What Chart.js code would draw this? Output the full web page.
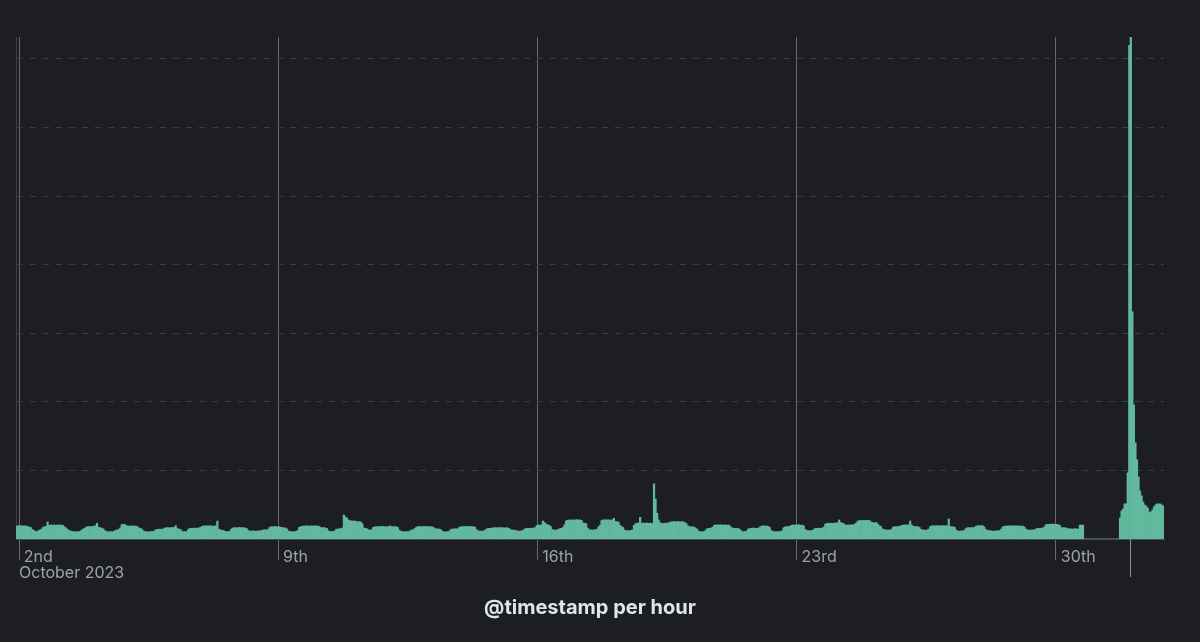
<!DOCTYPE html>
<html lang="en">
<head>
  <meta charset="UTF-8">
  <title>@timestamp per hour</title>
  <style>
    html, body {
      margin: 0;
      padding: 0;
      background: #1d1e24;
    }
    .chart-container {
      position: relative;
      width: 1200px;
      height: 642px;
    }
  </style>
  <script src="https://cdn.jsdelivr.net/npm/chart.js"></script>
</head>
<body>
  <div class="chart-container">
    <canvas id="histogram"></canvas>
  </div>

  <script>
    // hourly document counts, first bucket 2023-10-01 22:00
    const firstHour = Date.UTC(2023, 9, 1, 22);

    const oct01Late = [95, 96];
    const week1 = [
      95,97,94,96,95,92,88,84,70,64,55,53,60,66,72,84,90,92,124,100,102,101,103,100,
      102,101,103,100,99,88,80,70,62,58,56,53,52,54,53,55,64,72,78,86,90,91,89,92,
      94,96,115,86,82,80,74,62,55,53,52,54,53,56,62,66,68,80,104,107,106,97,95,94,
      96,95,93,95,92,82,78,72,60,55,53,52,53,54,53,58,66,70,71,72,70,74,80,82,
      83,81,84,82,85,97,76,73,70,58,53,54,53,68,76,78,79,77,80,78,81,84,92,95,
      95,96,94,97,95,93,94,96,131,72,66,64,62,55,53,54,56,72,80,82,83,81,84,82,
      83,82,80,76,62,58,57,59,58,56,58,60,59,64,66,67,65,72,86,90,89,91,90,88
    ];
    const week2 = [
      90,86,82,83,80,74,60,54,53,52,54,56,62,84,90,92,95,94,96,95,93,96,94,95,
      96,94,92,84,82,83,80,76,60,54,53,55,58,70,73,74,76,80,175,160,153,138,134,131,
      130,132,126,127,125,124,110,80,78,74,66,65,68,84,88,90,89,91,90,92,89,90,88,91,
      95,90,89,91,88,84,64,56,53,52,53,54,53,60,66,68,76,86,90,91,89,90,92,90,
      91,89,90,88,86,76,73,74,72,66,56,53,52,54,55,66,72,73,74,73,76,86,90,89,
      91,90,92,89,90,91,88,86,68,60,58,57,58,60,70,76,78,77,79,82,83,81,84,82,
      83,82,80,82,81,78,68,66,65,64,60,58,57,59,62,72,76,78,77,79,78,80,84,98
    ];
    const week3 = [
      102,100,104,131,120,110,104,100,92,70,66,64,66,70,76,78,84,104,132,136,139,137,140,138,
      139,141,138,140,136,118,115,112,80,68,66,65,66,68,70,88,100,134,139,140,138,141,139,137,
      140,151,128,126,124,100,90,84,64,60,61,60,62,66,100,112,115,116,158,115,116,114,117,115,
      114,116,113,402,290,188,139,118,115,112,116,114,117,120,124,126,127,125,128,126,124,127,125,120,
      112,96,90,88,89,86,80,70,56,53,52,54,58,72,77,78,80,86,100,102,103,101,104,102,
      101,103,100,102,98,84,80,78,77,78,74,66,55,53,54,58,72,76,78,80,79,77,78,82,
      90,95,96,94,95,92,84,62,55,53,52,54,53,55,60,82,88,90,91,92,100,102,101,103
    ];
    const week4 = [
      102,104,100,101,96,70,62,60,61,60,64,74,78,77,79,78,80,86,108,114,115,113,116,114,
      115,117,118,139,120,116,112,102,101,103,100,104,102,108,116,130,134,135,133,136,134,137,135,132,
      122,119,118,120,110,97,92,74,68,66,65,66,64,72,86,90,89,91,92,96,100,102,103,101,
      104,131,102,92,90,91,89,84,70,66,65,64,66,72,90,96,97,95,98,96,97,95,98,96,
      97,95,146,92,90,89,84,64,58,57,59,58,62,76,82,83,81,84,82,88,95,97,96,98,
      96,88,70,64,62,60,58,57,58,60,59,62,72,88,92,95,94,96,95,97,94,95,96,94,
      95,93,94,88,72,66,65,64,66,65,70,76,78,77,79,80,88,104,107,106,108,107,109,106
    ];
    const oct30 = [107,104,100,84,82,83,80,76,73,74,72,73,75,74,72,100,102,101];
    const missingHours = [0,0,0,0,0,0,0,0,0,0,0,0,0,0,0,0,0,0,0,0,0,0,0];
    const oct31Nov1 = [
      153,204,219,256,256,482,3600,3660,1657,978,701,577,453,350,314,270,248,241,226,197,197,212,234,248,256,256,256,248,241
    ];

    const hourlyCounts = [].concat(oct01Late, week1, week2, week3, week4, oct30, missingHours, oct31Nov1);

    const weekTickTimes = ['2023-10-02 00:00', '2023-10-09 00:00', '2023-10-16 00:00', '2023-10-23 00:00', '2023-10-30 00:00'];
    const weekTickLabels = ['2nd', '9th', '16th', '23rd', '30th'];
    const monthLabel = 'October 2023';
    const monthBoundary = '2023-11-01 00:00';
    const axisTitle = '@timestamp per hour';

    const yMax = 3660;
    const yGridValues = [500, 1000, 1500, 2000, 2500, 3000, 3500];

    const hourLabels = hourlyCounts.map(function(_, i) {
      return new Date(firstHour + i * 3600000).toISOString().slice(0, 16).replace('T', ' ');
    });

    function isLineTick(index) {
      const lbl = hourLabels[index];
      return weekTickTimes.indexOf(lbl) !== -1 || lbl === monthBoundary;
    }

    // "October 2023" under the first week tick, and the longer month boundary tick
    const monthLayer = {
      id: 'monthLayer',
      afterDraw(chart) {
        const ctx = chart.ctx;
        const xs = chart.scales.x;
        const half = (xs.getPixelForValue(1) - xs.getPixelForValue(0)) / 2;
        const bottom = chart.chartArea.bottom;

        const firstWeek = hourLabels.indexOf(weekTickTimes[0]);
        ctx.save();
        ctx.fillStyle = '#9ca1ab';
        ctx.font = '16px Inter';
        ctx.textAlign = 'left';
        ctx.textBaseline = 'alphabetic';
        ctx.fillText(monthLabel, Math.round(xs.getPixelForValue(firstWeek) - half), bottom + 39);

        const nov = hourLabels.indexOf(monthBoundary);
        const nx = Math.round(xs.getPixelForValue(nov) - half) + 0.5;
        ctx.strokeStyle = '#8a8d94';
        ctx.lineWidth = 1;
        ctx.beginPath();
        ctx.moveTo(nx, bottom);
        ctx.lineTo(nx, bottom + 38);
        ctx.stroke();
        ctx.restore();
      }
    };

    const ctx = document.getElementById('histogram').getContext('2d');
    new Chart(ctx, {
      type: 'bar',
      data: {
        labels: hourLabels,
        datasets: [{
          label: 'Count',
          data: hourlyCounts,
          backgroundColor: '#62b99d',
          borderWidth: 0,
          barPercentage: 1,
          categoryPercentage: 1
        }]
      },
      options: {
        responsive: true,
        maintainAspectRatio: false,
        animation: false,
        layout: {
          padding: { left: 16, right: 36, top: 37, bottom: 0 }
        },
        plugins: {
          legend: { display: false },
          tooltip: { enabled: false }
        },
        scales: {
          x: {
            afterFit(scale) { scale.height = 103; },
            grid: {
              offset: true,
              drawOnChartArea: true,
              tickLength: 21,
              color(c) {
                if (c.index === undefined || c.index >= hourLabels.length) return 'rgba(0,0,0,0)';
                if (hourLabels[c.index] === monthBoundary) return '#8a8d94';
                return isLineTick(c.index) ? '#65686f' : 'rgba(0,0,0,0)';
              }
            },
            border: { display: true, color: '#4a4d55' },
            ticks: {
              autoSkip: false,
              maxRotation: 0,
              minRotation: 0,
              align: 'start',
              labelOffset: 4,
              padding: -12,
              color: '#9ca1ab',
              font: { family: 'Inter', size: 16 },
              callback(value, index) {
                const k = weekTickTimes.indexOf(hourLabels[index]);
                return k === -1 ? '' : weekTickLabels[k];
              }
            },
            title: {
              display: true,
              text: axisTitle,
              color: '#dfe5ef',
              font: { family: 'Inter', size: 20, weight: 'bold' },
              padding: { top: 0, bottom: 22 }
            }
          },
          y: {
            min: 0,
            max: yMax,
            afterFit(scale) { scale.width = 0; },
            afterBuildTicks(scale) {
              scale.ticks = yGridValues.map(function(v) { return { value: v }; });
            },
            grid: {
              drawTicks: false,
              color: '#3a3d45'
            },
            border: { display: true, color: '#3b3e46', dash: [6, 7] },
            ticks: { display: false }
          }
        }
      },
      plugins: [monthLayer]
    });
  </script>
</body>
</html>
